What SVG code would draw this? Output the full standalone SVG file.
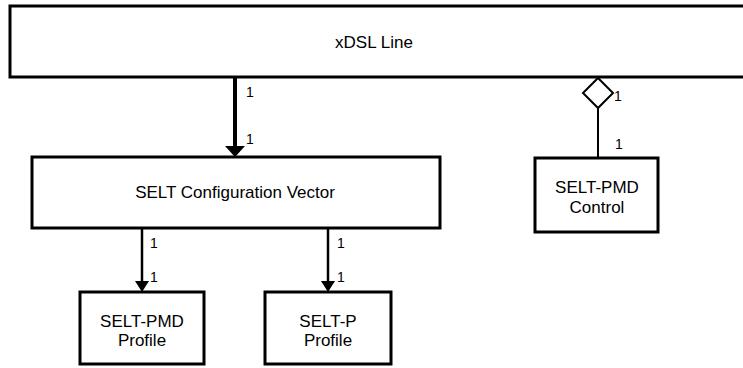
<svg xmlns="http://www.w3.org/2000/svg" width="743" height="368" viewBox="0 0 743 368">
<style>
.box{fill:#fff;stroke:#000;stroke-width:3}
.t{font-family:"Liberation Sans",Arial,sans-serif;font-size:17px;fill:#000;text-anchor:middle}
.m{font-family:"Liberation Sans",Arial,sans-serif;font-size:14px;fill:#000}
.ln{stroke:#000;fill:none}
</style>
<g id="xdsl-line"><rect class="box" x="10" y="6" width="745" height="71"/><text class="t" x="374" y="48">xDSL Line</text></g>
<g id="selt-config"><rect class="box" x="32" y="157" width="408" height="71"/><text class="t" x="235" y="198">SELT Configuration Vector</text></g>
<g id="selt-pmd-control"><rect class="box" x="535" y="158" width="123" height="74"/><text class="t" x="597" y="193">SELT-PMD</text><text class="t" x="597" y="213">Control</text></g>
<g id="selt-pmd-profile"><rect class="box" x="80" y="292" width="124" height="72"/><text class="t" x="142" y="327">SELT-PMD</text><text class="t" x="142" y="346">Profile</text></g>
<g id="selt-p-profile"><rect class="box" x="265" y="292" width="126" height="72"/><text class="t" x="328" y="327">SELT-P</text><text class="t" x="328" y="346">Profile</text></g>
<g id="connectors">
<line class="ln" x1="235" y1="78" x2="235" y2="147" stroke-width="4"/>
<path d="M225,146 L245,146 L235,157 Z" fill="#000"/>
<line class="ln" x1="142" y1="229" x2="142" y2="282" stroke-width="2.5"/>
<path d="M135,281 L149,281 L142,292 Z" fill="#000"/>
<line class="ln" x1="328" y1="229" x2="328" y2="282" stroke-width="2.5"/>
<path d="M321,281 L335,281 L328,292 Z" fill="#000"/>
<path d="M598,78 L613,93 L598,108 L583,93 Z" fill="#fff" stroke="#000" stroke-width="2"/>
<line class="ln" x1="598" y1="108" x2="598" y2="158" stroke-width="2"/>
<text class="m" x="246" y="97">1</text>
<text class="m" x="246" y="144">1</text>
<text class="m" x="614" y="101">1</text>
<text class="m" x="615" y="149">1</text>
<text class="m" x="150" y="248">1</text>
<text class="m" x="150" y="282">1</text>
<text class="m" x="337" y="248">1</text>
<text class="m" x="337" y="282">1</text>
</g>
</svg>
